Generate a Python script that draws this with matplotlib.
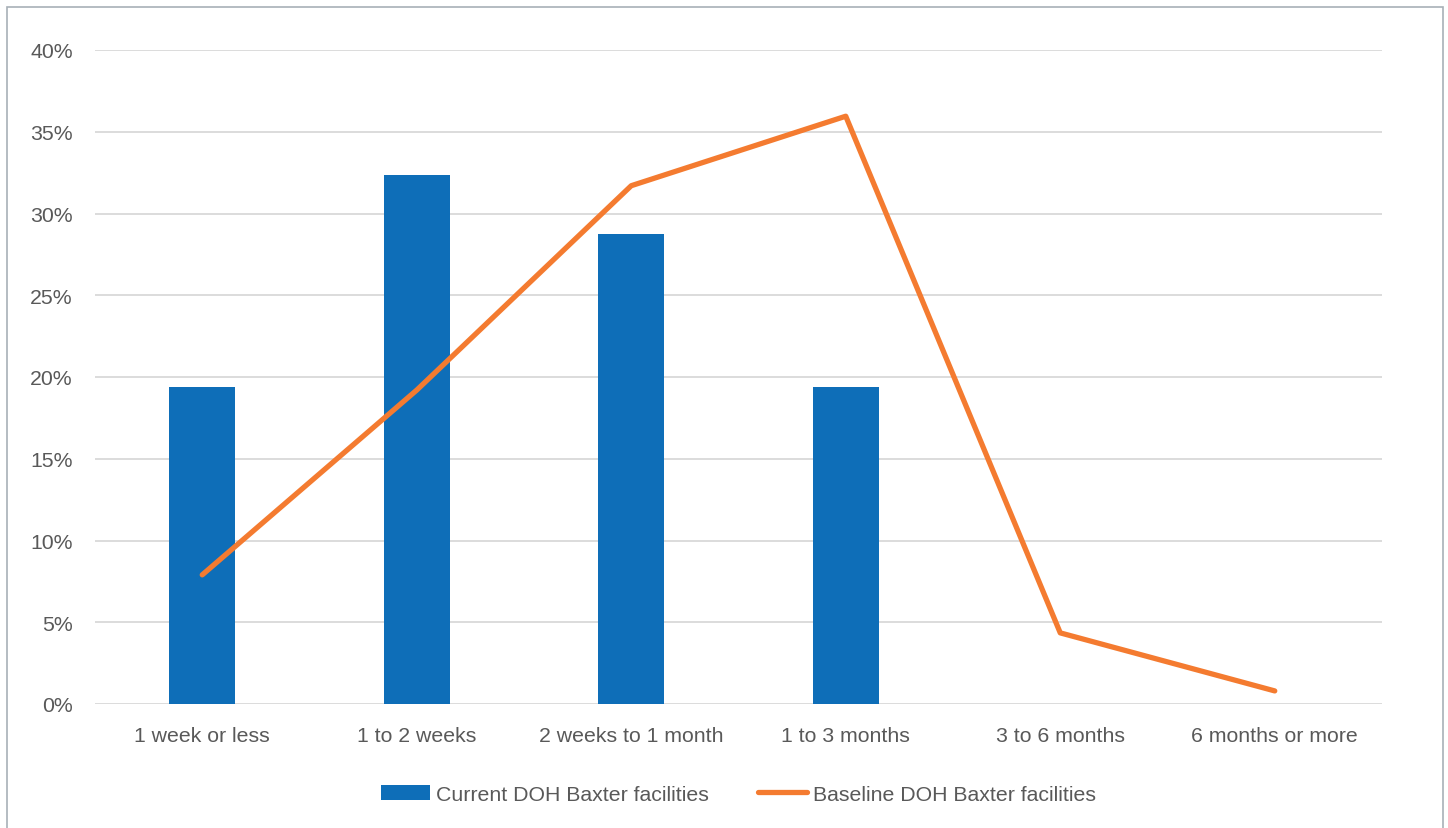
import matplotlib.pyplot as plt
import numpy as np
from matplotlib.patches import Rectangle

categories = ["1 week or less", "1 to 2 weeks", "2 weeks to 1 month",
              "1 to 3 months", "3 to 6 months", "6 months or more"]
current = [19.4, 32.35, 28.75, 19.4, 0, 0]
baseline = [7.9, 19.2, 31.7, 35.95, 4.35, 0.8]
yticks = [0, 5, 10, 15, 20, 25, 30, 35, 40]

plt.rcParams['font.family'] = ['Liberation Sans', 'DejaVu Sans']
text_col = '#595959'

fig = plt.figure(figsize=(14.48, 8.29), dpi=100)
ax = fig.add_axes([95 / 1448, 124 / 829, 1287 / 1448, 654 / 829])

x = np.arange(len(categories))
bars = ax.bar(x[:4], current[:4], width=0.31, color='#0E6EB8', zorder=2,
              label='Current DOH Baxter facilities')
line, = ax.plot(x, baseline, color='#F47B30', lw=3.8, solid_capstyle='round',
                solid_joinstyle='round', zorder=3,
                label='Baseline DOH Baxter facilities')

ax.set_xlim(-0.5, len(categories) - 0.5)
ax.set_ylim(0, 40)
ax.set_yticks(yticks)
ax.set_yticklabels([f"{v}%" for v in yticks])
ax.set_xticks(x)
ax.set_xticklabels(categories)
ax.tick_params(axis='both', length=0, labelsize=15.3, colors=text_col)
ax.tick_params(axis='y', pad=16)
ax.tick_params(axis='x', pad=16)
ax.grid(axis='y', color='#D9D9D9', lw=1.3, zorder=0)
for s in ax.spines.values():
    s.set_visible(False)

ax.legend(handles=[bars, line], loc='center', bbox_to_anchor=(0.5, -0.138),
          ncol=2, frameon=False, fontsize=15.3, labelcolor=text_col,
          handlelength=2.3, handletextpad=0.3, columnspacing=2.3)

fig.patches.append(Rectangle((7 / 1448, -0.05), 1436 / 1448, 1.05 - 8 / 829,
                             transform=fig.transFigure, fill=False,
                             edgecolor='#A8B0B8', lw=1.2))

fig.savefig("out.png", dpi=100)
